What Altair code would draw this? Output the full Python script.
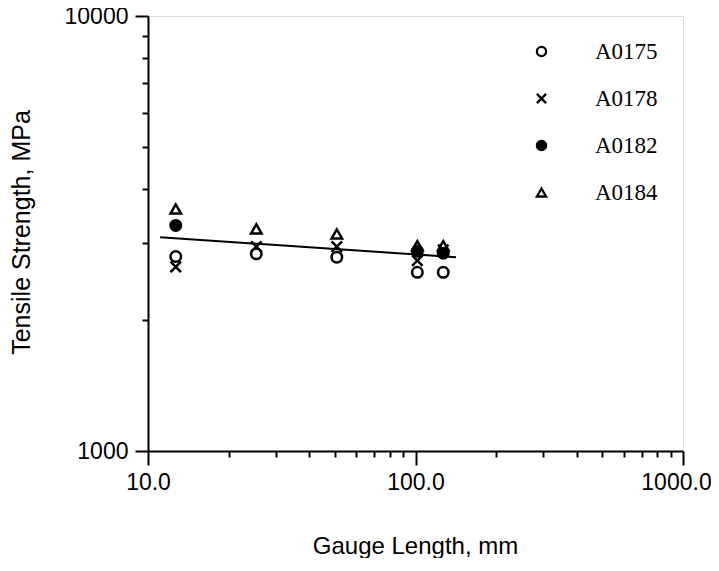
import altair as alt
import pandas as pd

specimens = ["A0175", "A0178", "A0182", "A0184"]

gauge_a0175 = [12.7, 25.4, 50.8, 101.6, 127.0]
strength_a0175 = [2800, 2840, 2790, 2575, 2575]

gauge_a0178 = [12.7, 25.4, 50.8, 101.6, 127.0]
strength_a0178 = [2650, 2950, 2950, 2740, 2900]

gauge_a0182 = [12.7, 101.6, 127.0]
strength_a0182 = [3300, 2880, 2850]

gauge_a0184 = [12.7, 25.4, 50.8, 101.6, 127.0]
strength_a0184 = [3600, 3240, 3155, 2965, 2965]

fit_gauge = [11.1, 141.7]
fit_strength = [3100, 2790]

x_ticks = [10, 20, 30, 40, 50, 60, 70, 80, 90, 100, 200, 300, 400, 500, 600, 700, 800, 900, 1000]
y_ticks = [1000, 2000, 3000, 4000, 5000, 6000, 7000, 8000, 9000, 10000]

rows = []
for name, gs, ss in [("A0175", gauge_a0175, strength_a0175),
                     ("A0178", gauge_a0178, strength_a0178),
                     ("A0182", gauge_a0182, strength_a0182),
                     ("A0184", gauge_a0184, strength_a0184)]:
    for g, s in zip(gs, ss):
        rows.append({"specimen": name, "gauge": g, "strength": s})
points_df = pd.DataFrame(rows)
fit_df = pd.DataFrame({"gauge": fit_gauge, "strength": fit_strength})

FONT = "Liberation Sans"
xmajor = "datum.value == 10 || datum.value == 100 || datum.value == 1000"
ymajor = "datum.value == 1000 || datum.value == 10000"

x_scale = alt.Scale(type="log", domain=[10, 1000], nice=False)
y_scale = alt.Scale(type="log", domain=[1000, 10000], nice=False)

x_axis = alt.Axis(
    title="Gauge Length, mm", values=x_ticks, grid=False,
    labelExpr=f"({xmajor}) ? format(datum.value, '.1f') : ''",
    tickSize={"condition": {"test": xmajor, "value": 14}, "value": 6},
    labelOffset={"condition": {"test": "datum.value == 1000", "value": -7}, "value": 0},
    tickColor="black", tickWidth=2, domainColor="black", domainWidth=2,
    labelFont=FONT, labelFontSize=23, labelColor="black", labelPadding=6,
    labelFlush=False,
    titleFont=FONT, titleFontSize=24, titleFontWeight="normal", titleColor="black",
    titleX=267, titleY=102, titleBaseline="alphabetic",
)
y_axis = alt.Axis(
    title="Tensile Strength, MPa", values=y_ticks, grid=False,
    labelExpr=f"({ymajor}) ? format(datum.value, 'd') : ''",
    tickSize={"condition": {"test": ymajor, "value": 13}, "value": 6},
    tickColor="black", tickWidth=2, domainColor="black", domainWidth=2,
    labelFont=FONT, labelFontSize=23, labelColor="black", labelPadding=7,
    labelFlush=False,
    titleFont=FONT, titleFontSize=25, titleFontWeight="normal", titleColor="black",
    titleX=-127, titleY=216, titleBaseline="middle",
)

shape_scale = alt.Scale(
    domain=specimens,
    range=["circle", "M-1,-1L1,1M-1,1L1,-1", "circle", "triangle-up"],
)
fill_scale = alt.Scale(
    domain=specimens,
    range=["transparent", "transparent", "black", "transparent"],
)
stroke_scale = alt.Scale(
    domain=specimens,
    range=["black", "black", "black", "black"],
)
legend = alt.Legend(
    title=None, orient="none", legendX=382, legendY=24,
    labelFont="Liberation Serif", labelFontSize=23, labelColor="black",
    labelOffset=42, rowPadding=23, symbolSize=85,
    symbolStrokeWidth=2.3, padding=0,
)

pts = alt.Chart(points_df).mark_point(
    strokeWidth=2.5, size=110, opacity=1
).encode(
    x=alt.X("gauge:Q", scale=x_scale, axis=x_axis),
    y=alt.Y("strength:Q", scale=y_scale, axis=y_axis),
    shape=alt.Shape("specimen:N", scale=shape_scale, legend=legend),
    fill=alt.Fill("specimen:N", scale=fill_scale, legend=legend),
    stroke=alt.Stroke("specimen:N", scale=stroke_scale, legend=legend),
)

line = alt.Chart(fit_df).mark_line(color="black", strokeWidth=2).encode(
    x=alt.X("gauge:Q", scale=x_scale),
    y=alt.Y("strength:Q", scale=y_scale),
)

chart = alt.layer(line, pts).properties(
    width=535, height=435,
    autosize=alt.AutoSizeParams(type="none"),
    padding={"left": 140, "top": 8, "right": 28, "bottom": 107},
).configure_view(stroke="black", strokeWidth=2).configure(background="white")

chart.save("out.html", embed_options={"renderer": "svg", "actions": False})
